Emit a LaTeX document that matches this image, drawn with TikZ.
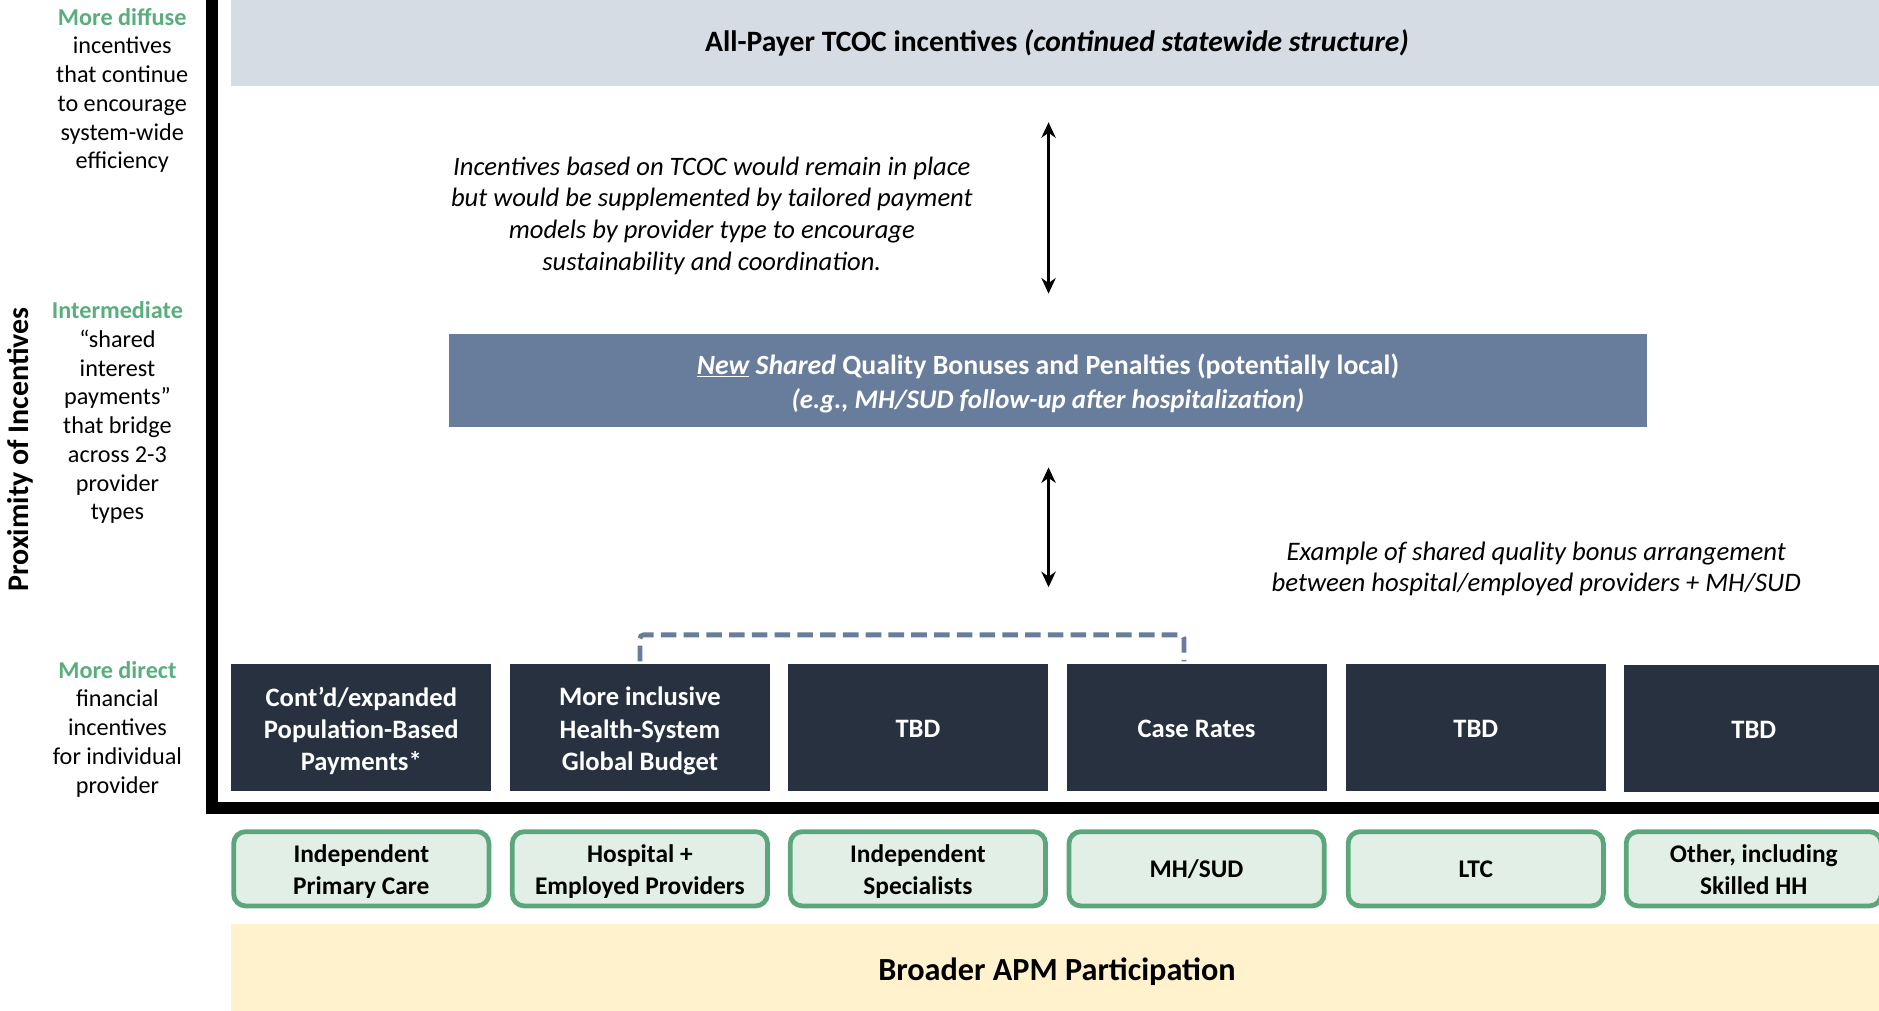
\documentclass[tikz,border=0pt]{standalone}
\usepackage{fontspec}
\setmainfont{Carlito}
\usetikzlibrary{arrows.meta}
\definecolor{topgray}{HTML}{D5DCE4}
\definecolor{slate}{HTML}{687C9B}
\definecolor{navy}{HTML}{283140}
\definecolor{gborder}{HTML}{5BA77B}
\definecolor{gfill}{HTML}{E2EFE6}
\definecolor{ybar}{HTML}{FFF2CC}
\definecolor{gtext}{HTML}{5AAE7E}
\tikzset{
  band/.style={rectangle, inner sep=0pt, draw=none},
  darkbox/.style={rectangle, fill=navy, minimum width=217pt, minimum height=106pt, inner sep=0pt},
  darktxt/.style={inner sep=0pt, text=white, align=center, font=\fontsize{22.2}{27}\selectfont\bfseries},
  provbox/.style={rectangle, rounded corners=10pt, fill=gfill, draw=gborder, line width=4pt, minimum width=213pt, minimum height=62pt, inner sep=0pt},
  provtxt/.style={inner sep=0pt, align=center, font=\fontsize{21.2}{27}\selectfont\bfseries},
  sidelabel/.style={align=center, inner sep=0pt, anchor=north, font=\fontsize{20.2}{24}\selectfont},
  dblarrow/.style={{Stealth[length=13pt,width=12pt]}-{Stealth[length=13pt,width=12pt]}, line width=2pt},
  bracket/.style={draw=slate, line width=4pt, dash pattern=on 13pt off 6pt, rounded corners=3pt},
  note/.style={align=center, inner sep=0pt, font=\fontsize{22.2}{26.5}\selectfont\itshape}
}
\begin{document}
\begin{tikzpicture}[x=1pt,y=-1pt]
\useasboundingbox (0,0) rectangle (1568,843);
\clip (0,0) rectangle (1568,843);
% bands
\node[band, fill=topgray, minimum width=1378pt, minimum height=72pt, font=\fontsize{24.7}{28}\selectfont\bfseries] (tcoc) at (882,36) {All-Payer TCOC incentives \textit{(continued statewide structure)}};
\node[band, fill=slate, minimum width=999pt, minimum height=77pt] (shared) at (874.5,317.5) {};
\node[inner sep=0pt, text=white, align=center, font=\fontsize{23.2}{28}\selectfont\bfseries] (sharedtxt) at (874.5,320) {\textit{\underline{New} Shared} Quality Bonuses and Penalties (potentially local)\\{\fontsize{22.4}{28}\selectfont\textit{(e.g., MH/SUD follow-up after hospitalization)}}};
\node[band, fill=ybar, minimum width=1378pt, minimum height=80pt, font=\fontsize{26.9}{30}\selectfont\bfseries] (apm) at (882,811) {Broader APM Participation};
% axis
\draw[line width=10pt] (177,0) -- (177,674.5) -- (1568,674.5);
% payment model boxes
\node[darkbox] (b1) at (301.5,607) {};
\node[darkbox] (b2) at (534,607) {};
\node[darkbox] (b3) at (766,607) {};
\node[darkbox] (b4) at (998.5,607) {};
\node[darkbox] (b5) at (1231.5,607) {};
\node[darkbox] (b6) at (1463.5,608) {};
\node[darktxt] (t1) at ([yshift=-3pt]b1.center) {Cont’d/expanded\\Population-Based\\Payments*};
\node[darktxt] (t2) at ([yshift=-3pt]b2.center) {More inclusive\\Health-System\\Global Budget};
\node[darktxt] (t3) at ([yshift=-1pt]b3.center) {TBD};
\node[darktxt] (t4) at ([yshift=-1pt]b4.center) {Case Rates};
\node[darktxt] (t5) at ([yshift=-1pt]b5.center) {TBD};
\node[darktxt] (t6) at ([yshift=-1pt]b6.center) {TBD};
% provider boxes
\node[provbox] (p1) at (301.5,725) {};
\node[provbox] (p2) at (534,725) {};
\node[provbox] (p3) at (766,725) {};
\node[provbox] (p4) at (998.5,725) {};
\node[provbox] (p5) at (1231.5,725) {};
\node[provbox] (p6) at (1463.5,725) {};
\node[provtxt] (q1) at ([yshift=-2.5pt]p1.center) {Independent\\Primary Care};
\node[provtxt] (q2) at ([yshift=-2.5pt]p2.center) {Hospital +\\Employed Providers};
\node[provtxt] (q3) at ([yshift=-2.5pt]p3.center) {Independent\\Specialists};
\node[provtxt] (q4) at ([yshift=-0.5pt]p4.center) {MH/SUD};
\node[provtxt] (q5) at ([yshift=-0.5pt]p5.center) {LTC};
\node[provtxt] (q6) at ([yshift=-0.5pt]p6.center) {Other, including\\Skilled HH};
% bracket
\draw[bracket] ([yshift=2pt]b2.north) -- ([yshift=24pt]b2.north) -| ([xshift=-10.5pt,yshift=2pt]b4.north);
% arrows
\coordinate (a1t) at (875,102);
\coordinate (a1b) at (875,245);
\coordinate (a2t) at (875,390);
\coordinate (a2b) at (875,490);
\draw[dblarrow] (a1t) -- (a1b);
\draw[dblarrow] (a2t) -- (a2b);
% notes
\node[note] (n1) at (594,180) {Incentives based on TCOC would remain in place\\but would be supplemented by tailored payment\\models by provider type to encourage\\sustainability and coordination.};
\node[note, font=\fontsize{22.3}{26}\selectfont\itshape] (n2) at (1282,475) {Example of shared quality bonus arrangement\\between hospital/employed providers + MH/SUD};
% side labels
\node[sidelabel] (l1) at (102,6.5) {\textcolor{gtext}{\bfseries More diffuse}\\incentives\\that continue\\to encourage\\system-wide\\efficiency};
\node[sidelabel] (l2) at (98,251.5) {\textcolor{gtext}{\bfseries Intermediate}\\“shared\\interest\\payments”\\that bridge\\across 2-3\\provider\\types};
\node[sidelabel] (l3) at (98,551.5) {\textcolor{gtext}{\bfseries More direct}\\financial\\incentives\\for individual\\provider};
\node[rotate=90, inner sep=0pt, font=\fontsize{25}{28}\selectfont\bfseries] (axis) at (17,375) {Proximity of Incentives};
\end{tikzpicture}
\end{document}
